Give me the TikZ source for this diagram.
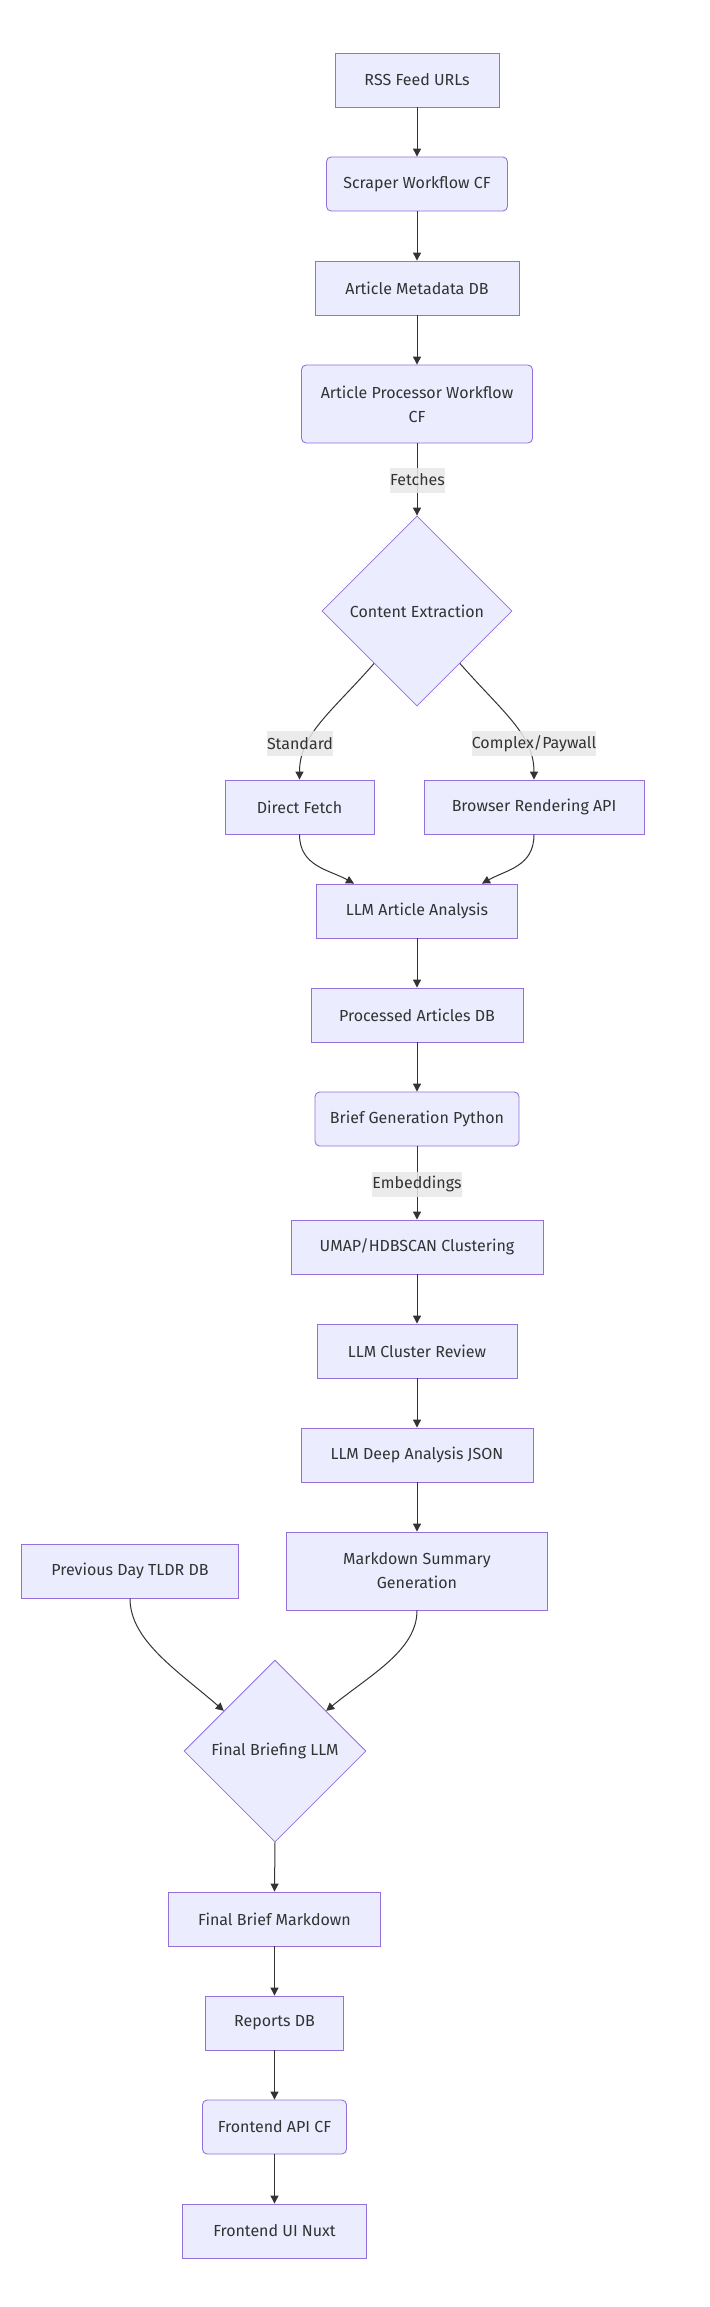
\documentclass[tikz,border=0pt]{standalone}
\usepackage{fontspec}
\setmainfont{Fira Sans}
\usetikzlibrary{shapes.geometric,arrows.meta,calc}
\definecolor{nodefill}{HTML}{ECECFF}
\definecolor{nodeline}{HTML}{9370DB}
\definecolor{txt}{HTML}{333333}
\definecolor{labelbg}{HTML}{E8E8E8}
\tikzset{
  box/.style={draw=nodeline, fill=nodefill, line width=0.65pt, text=txt,
    inner sep=0pt, minimum height=40.5pt, align=center,
    font=\fontsize{12pt}{18pt}\selectfont},
  rbox/.style={box, rounded corners=3.5pt},
  tallbox/.style={minimum height=58.5pt},
  decision/.style={draw=nodeline, fill=nodefill, line width=0.6pt, text=txt,
    shape=diamond, aspect=1, inner sep=0pt, align=center,
    font=\fontsize{12pt}{18pt}\selectfont},
  conn/.style={draw=txt, line width=0.75pt, -{Triangle[length=6pt,width=6pt]}},
  elabel/.style={fill=labelbg, fill opacity=0.85, text opacity=1, text=txt,
    inner xsep=0pt, inner ysep=0pt, minimum height=18.75pt,
    font=\fontsize{12pt}{18pt}\selectfont}
}
\begin{document}
\begin{tikzpicture}[x=0.75pt, y=-0.75pt]
\useasboundingbox (0,0) rectangle (710,2307);
\fill[white] (0,0) rectangle (710,2307);

% main column
\node[box, minimum width=123pt] (rss) at (417,80) {RSS Feed URLs};
\node[rbox, minimum width=135.75pt] (scraper) at (417,184) {Scraper Workflow CF};
\node[box, minimum width=153pt] (meta) at (417,288) {Article Metadata DB};
\node[rbox, tallbox, minimum width=173.25pt] (proc) at (417,404) {Article Processor Workflow\\CF};
\node[decision, minimum width=142.5pt, minimum height=142.5pt] (ce) at (417,611) {Content Extraction};
\node[box, minimum width=111.75pt] (direct) at (299.5,807) {Direct Fetch};
\node[box, minimum width=165pt] (browser) at (534,807) {Browser Rendering API};
\node[box, minimum width=150.75pt] (llmart) at (417,911) {LLM Article Analysis};
\node[box, minimum width=159pt] (processed) at (417,1015) {Processed Articles DB};
\node[rbox, minimum width=153pt] (brief) at (417,1119) {Brief Generation Python};
\node[box, minimum width=189pt] (umap) at (417,1247) {UMAP/HDBSCAN Clustering};
\node[box, minimum width=150pt] (cluster) at (417,1351) {LLM Cluster Review};
\node[box, minimum width=174pt] (deep) at (417,1455) {LLM Deep Analysis JSON};
\node[box, tallbox, minimum width=195.75pt] (md) at (417,1571) {Markdown Summary\\Generation};
\node[box, minimum width=162.75pt] (tldr) at (130,1571) {Previous Day TLDR DB};
\node[decision, minimum width=136.5pt, minimum height=136.5pt] (fb) at (275,1751) {Final Briefing LLM};
\node[box, minimum width=159pt] (fbm) at (274.5,1919) {Final Brief Markdown};
\node[box, minimum width=103.5pt] (reports) at (274.5,2023) {Reports DB};
\node[rbox, minimum width=108pt] (api) at (274.5,2127) {Frontend API CF};
\node[box, minimum width=138pt] (ui) at (274.5,2231) {Frontend UI Nuxt};

% straight connectors
\draw[conn] (rss.south) -- (scraper.north);
\draw[conn] (scraper.south) -- (meta.north);
\draw[conn] (meta.south) -- (proc.north);
\draw[conn] (proc.south) -- (ce.north);
\draw[conn] (llmart.south) -- (processed.north);
\draw[conn] (processed.south) -- (brief.north);
\draw[conn] (brief.south) -- (umap.north);
\draw[conn] (umap.south) -- (cluster.north);
\draw[conn] (cluster.south) -- (deep.north);
\draw[conn] (deep.south) -- (md.north);
\draw[conn] (fb.south) -- (fbm.north);
\draw[conn] (fbm.south) -- (reports.north);
\draw[conn] (reports.south) -- (api.north);
\draw[conn] (api.south) -- (ui.north);

% curved connectors
\coordinate (ceL) at ($(ce.west)!0.55!(ce.south)$);
\coordinate (ceR) at ($(ce.east)!0.55!(ce.south)$);
\draw[conn] (ceL) .. controls ($(ceL)+(-43,49)$) and ($(direct.north)+(0,-45)$) .. (direct.north);
\draw[conn] (ceR) .. controls ($(ceR)+(43,49)$) and ($(browser.north)+(0,-45)$) .. (browser.north);

\coordinate (llmL) at ($(llmart.north)+(-63,0)$);
\coordinate (llmR) at ($(llmart.north)+(65,0)$);
\draw[conn] (direct.south) .. controls ($(direct.south)+(0,32)$) and ($(llmL)+(-25,-14)$) .. (llmL);
\draw[conn] (browser.south) .. controls ($(browser.south)+(0,32)$) and ($(llmR)+(25,-14)$) .. (llmR);

\coordinate (fbL) at ($(fb.north)!0.56!(fb.west)$);
\coordinate (fbR) at ($(fb.north)!0.56!(fb.east)$);
\draw[conn] (tldr.south) .. controls ($(tldr.south)+(0,42)$) and ($(fbL)+(-46,-40)$) .. (fbL);
\draw[conn] (md.south) .. controls ($(md.south)+(0,40)$) and ($(fbR)+(44,-36)$) .. (fbR);

% edge labels
\node[elabel, minimum width=41.25pt] (lfetch) at (417.5,480) {Fetches};
\node[elabel, minimum width=48pt] (lstd) at (300,743.5) {Standard};
\node[elabel, minimum width=93pt] (lcpx) at (534,743.5) {Complex/Paywall};
\node[elabel, minimum width=64.5pt] (lemb) at (417,1184) {Embeddings};
\end{tikzpicture}
\end{document}
